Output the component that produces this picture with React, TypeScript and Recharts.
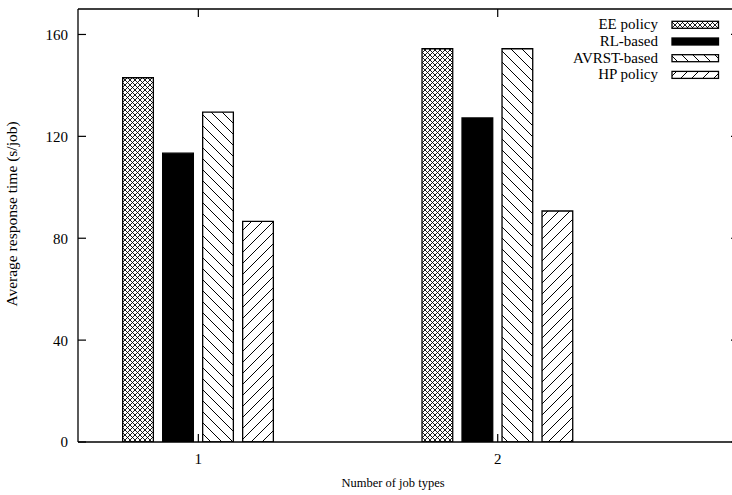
import { BarChart, Bar, XAxis, YAxis } from 'recharts'

const jobTypes = [1, 2]
const eePolicy = [143, 154.4]
const rlBased = [113.4, 127.2]
const avrstBased = [129.5, 154.4]
const hpPolicy = [86.6, 90.7]
const yTicks = [0, 40, 80, 120, 160]

const series = [
  { key: 'ee', name: 'EE policy', fill: 'url(#pat-cross)' },
  { key: 'rl', name: 'RL-based', fill: '#000' },
  { key: 'avrst', name: 'AVRST-based', fill: 'url(#pat-back)' },
  { key: 'hp', name: 'HP policy', fill: 'url(#pat-fwd)' },
]

const data = jobTypes.map((jt, i) => ({
  jobs: jt,
  ee: eePolicy[i],
  rl: rlBased[i],
  avrst: avrstBased[i],
  hp: hpPolicy[i],
}))

const FONT = '"Liberation Serif", "Times New Roman", serif'
const X_DOMAIN = [0.598, 2.806]
const Y_DOMAIN = [0, 170]

// chart layout
const CHART_W = 760
const CHART_H = 495
const MARGIN = { top: 9, right: 21, left: 0, bottom: 0 }
const Y_AXIS_W = 78
const X_AXIS_H = 53
const PLOT_W = CHART_W - MARGIN.left - MARGIN.right - Y_AXIS_W
const PLOT_H = CHART_H - MARGIN.top - MARGIN.bottom - X_AXIS_H

// left ticks, mirrored on the right edge
function LeftTick({ x, y, payload }: any) {
  const axisX = x + 10
  return (
    <g>
      <line x1={axisX} x2={axisX + 8} y1={y} y2={y} stroke="#000" strokeWidth={1.2} />
      <line x1={axisX + PLOT_W - 8} x2={axisX + PLOT_W} y1={y} y2={y} stroke="#000" strokeWidth={1.2} />
      <text x={x} y={y} dy="0.36em" textAnchor="end" fontSize={15} fontFamily={FONT} fill="#000">
        {payload.value}
      </text>
    </g>
  )
}

// bottom ticks, mirrored on the top edge
function BottomTick({ x, y, payload }: any) {
  return (
    <g>
      <line x1={x} x2={x} y1={y} y2={y - 8} stroke="#000" strokeWidth={1.2} />
      <line x1={x} x2={x} y1={y - PLOT_H} y2={y - PLOT_H + 8} stroke="#000" strokeWidth={1.2} />
      <text x={x} y={y + 22} textAnchor="middle" fontSize={15} fontFamily={FONT} fill="#000">
        {payload.value}
      </text>
    </g>
  )
}

function KeyBox() {
  return (
    <g>
      {series.map((s, i) => {
        const base = 29.3 + i * 16.7
        return (
          <g key={s.key}>
            <text x={658} y={base} textAnchor="end" fontSize={15} fontFamily={FONT} fill="#000">
              {s.name}
            </text>
            <rect x={672} y={base - 8} width={46.5} height={7} fill={s.fill} stroke="#000" strokeWidth={1.3} />
          </g>
        )
      })}
    </g>
  )
}

function XLabel({ viewBox }: any) {
  const top = viewBox.y - PLOT_H
  const right = viewBox.x + viewBox.width
  return (
    <g>
      <path
        d={`M${viewBox.x},${top} L${right},${top} L${right},${viewBox.y}`}
        fill="none"
        stroke="#000"
        strokeWidth={1.4}
      />
      <text
        x={viewBox.x + viewBox.width / 2 - 15.5}
        y={viewBox.y + 45}
        textAnchor="middle"
        fontSize={12.5}
        fontFamily={FONT}
        fill="#000"
      >
        Number of job types
      </text>
      <KeyBox />
    </g>
  )
}

function YLabel({ viewBox }: any) {
  const cx = 17
  const cy = viewBox.y + viewBox.height / 2 - 11.5
  return (
    <text
      x={cx}
      y={cy}
      transform={`rotate(-90, ${cx}, ${cy})`}
      textAnchor="middle"
      fontSize={15.5}
      fontFamily={FONT}
      fill="#000"
    >
      Average response time (s/job)
    </text>
  )
}

export default function App() {
  return (
    <div style={{ position: 'fixed', left: 0, top: 0, width: 732, height: 495, overflow: 'hidden', background: '#fff' }}>
      <svg width={0} height={0} style={{ position: 'absolute' }}>
        <defs>
          <pattern id="pat-cross" patternUnits="userSpaceOnUse" width={5} height={5}>
            <path d="M-1,-1 L6,6 M6,-1 L-1,6" stroke="#000" strokeWidth={0.9} />
          </pattern>
          <pattern id="pat-back" patternUnits="userSpaceOnUse" width={11} height={11}>
            <path d="M0,0 L11,11 M-1,10 L1,12 M10,-1 L12,1" stroke="#000" strokeWidth={1} />
          </pattern>
          <pattern id="pat-fwd" patternUnits="userSpaceOnUse" width={11} height={11}>
            <path d="M0,11 L11,0 M-1,1 L1,-1 M10,12 L12,10" stroke="#000" strokeWidth={1} />
          </pattern>
        </defs>
      </svg>
      <BarChart width={CHART_W} height={CHART_H} data={data} margin={MARGIN} barSize={30.7} barGap={9.3}>
        <XAxis
          dataKey="jobs"
          type="number"
          domain={X_DOMAIN}
          allowDataOverflow
          ticks={jobTypes}
          height={X_AXIS_H}
          tickSize={0}
          tickMargin={0}
          tick={BottomTick}
          axisLine={{ stroke: '#000', strokeWidth: 1.3 }}
          label={{ content: XLabel }}
        />
        <YAxis
          domain={Y_DOMAIN}
          allowDataOverflow
          ticks={yTicks}
          width={Y_AXIS_W}
          tickSize={0}
          tickMargin={10}
          tick={LeftTick}
          axisLine={{ stroke: '#000', strokeWidth: 1.3 }}
          label={{ content: YLabel }}
        />
        {series.map((s) => (
          <Bar
            key={s.key}
            dataKey={s.key}
            name={s.name}
            fill={s.fill}
            stroke="#000"
            strokeWidth={1.3}
            isAnimationActive={false}
          />
        ))}
      </BarChart>
    </div>
  )
}
